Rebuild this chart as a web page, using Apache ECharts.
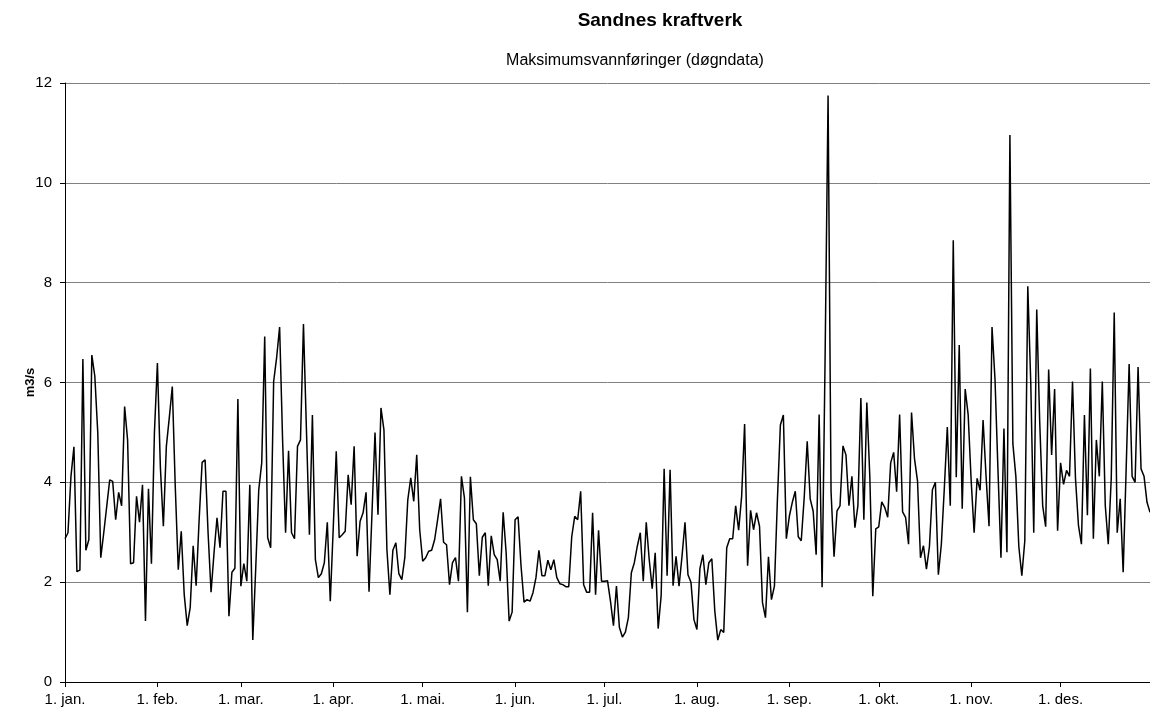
<!DOCTYPE html>
<html>
<head>
<meta charset="utf-8">
<script src="https://cdn.jsdelivr.net/npm/echarts@6/dist/echarts.min.js"></script>
<style>
  html, body { margin: 0; padding: 0; background: #fff; }
  #chart { width: 1150px; height: 713px; }
</style>
</head>
<body>
<div id="chart"></div>
<script>
// månedsnavn og antall dager
const monthNames = ['jan.', 'feb.', 'mar.', 'apr.', 'mai.', 'jun.', 'jul.', 'aug.', 'sep.', 'okt.', 'nov.', 'des.']
const monthDays = [31, 28, 31, 30, 31, 30, 31, 31, 30, 31, 30, 31]

// maksimumsvannføring per døgn (m3/s), lest av figuren
const jan = [2.87, 2.99, 4.12, 4.71, 2.21, 2.24, 6.47, 2.64, 2.85, 6.55, 6.13, 4.99, 2.49, 2.99, 3.52, 4.05, 4.02, 3.25, 3.8, 3.53, 5.52, 4.85, 2.37, 2.39, 3.72, 3.2, 3.95, 1.22, 3.87, 2.37, 5.0]
const feb = [6.39, 4.3, 3.12, 4.72, 5.3, 5.92, 3.9, 2.25, 3.02, 1.75, 1.13, 1.49, 2.73, 1.93, 3.25, 4.4, 4.45, 2.99, 1.8, 2.59, 3.29, 2.69, 3.82, 3.82, 1.32, 2.2, 2.28, 5.67]
const mar = [1.92, 2.37, 2.02, 3.95, 0.84, 2.3, 3.85, 4.39, 6.92, 2.89, 2.69, 6.02, 6.5, 7.11, 4.85, 2.99, 4.63, 2.99, 2.87, 4.72, 4.85, 7.17, 5.05, 2.95, 5.35, 2.45, 2.09, 2.17, 2.39, 3.2, 1.62]
const apr = [3.1, 4.62, 2.89, 2.95, 3.02, 4.15, 3.55, 4.72, 2.52, 3.22, 3.39, 3.8, 1.81, 3.4, 5.0, 3.35, 5.49, 5.05, 2.65, 1.75, 2.64, 2.79, 2.17, 2.05, 2.49, 3.65, 4.09, 3.62, 4.55, 3.05]
const mai = [2.42, 2.49, 2.62, 2.64, 2.85, 3.25, 3.67, 2.8, 2.75, 1.95, 2.39, 2.49, 2.02, 4.12, 3.69, 1.4, 4.11, 3.25, 3.17, 2.13, 2.9, 2.99, 1.93, 2.93, 2.55, 2.45, 2.02, 3.4, 2.59, 1.22, 1.4]
const jun = [3.25, 3.31, 2.32, 1.6, 1.65, 1.62, 1.79, 2.09, 2.64, 2.13, 2.13, 2.44, 2.25, 2.45, 2.09, 1.97, 1.95, 1.91, 1.91, 2.91, 3.32, 3.25, 3.82, 1.95, 1.8, 1.8, 3.39, 1.75, 3.04, 2.02]
const jul = [2.02, 2.03, 1.62, 1.13, 1.92, 1.09, 0.9, 1.0, 1.29, 2.19, 2.39, 2.72, 2.99, 2.02, 3.2, 2.45, 1.87, 2.59, 1.07, 1.73, 4.27, 2.13, 4.25, 1.93, 2.52, 1.92, 2.52, 3.2, 2.15, 2.0, 1.25]
const aug = [1.05, 2.27, 2.55, 1.95, 2.39, 2.47, 1.42, 0.84, 1.05, 0.99, 2.69, 2.87, 2.87, 3.53, 3.04, 3.72, 5.17, 2.33, 3.44, 3.05, 3.39, 3.12, 1.59, 1.29, 2.51, 1.65, 1.92, 3.65, 5.15, 5.35, 2.87]
const sep = [3.32, 3.6, 3.82, 2.91, 2.83, 3.7, 4.82, 3.67, 3.42, 2.55, 5.36, 1.9, 6.5, 11.75, 3.81, 2.51, 3.43, 3.53, 4.73, 4.55, 3.53, 4.12, 3.09, 3.53, 5.69, 3.25, 5.6, 4.12, 1.72, 3.07]
const okt = [3.11, 3.61, 3.5, 3.3, 4.39, 4.6, 3.81, 5.36, 3.41, 3.3, 2.76, 5.4, 4.47, 4.03, 2.49, 2.73, 2.26, 2.71, 3.85, 4.0, 2.15, 2.76, 3.88, 5.11, 3.53, 8.85, 4.1, 6.75, 3.47, 5.87, 5.35]
const nov = [4.04, 2.99, 4.08, 3.84, 5.25, 4.12, 3.12, 7.11, 6.07, 4.24, 2.49, 5.08, 2.6, 10.96, 4.77, 4.12, 2.71, 2.13, 2.83, 7.93, 5.99, 2.99, 7.46, 5.21, 3.53, 3.11, 6.26, 4.55, 5.87, 3.03]
const des = [4.39, 3.96, 4.24, 4.12, 6.02, 4.08, 3.14, 2.76, 5.35, 3.34, 6.28, 2.87, 4.85, 4.12, 6.02, 3.53, 2.76, 4.08, 7.4, 2.99, 3.67, 2.2, 4.27, 6.37, 4.12, 4.0, 6.31, 4.27, 4.12, 3.6, 3.4]

const values = [].concat(jan, feb, mar, apr, mai, jun, jul, aug, sep, okt, nov, des)

// kategorier: "1. jan." osv.
const categories = []
monthNames.forEach((m, i) => {
  for (let d = 1; d <= monthDays[i]; d++) categories.push(`${d}. ${m}`)
})
const isMonthStart = (index, value) => String(value).indexOf('1. ') === 0

const chart = echarts.init(document.getElementById('chart'), null, { renderer: 'canvas' })

const FONT = '"Liberation Sans", Arial, sans-serif'

chart.setOption({
  animation: false,
  backgroundColor: '#fff',
  title: [
    {
      text: 'Sandnes kraftverk',
      left: 655,
      top: 6,
      textAlign: 'center',
      textStyle: { fontFamily: FONT, fontSize: 19, fontWeight: 'bold', color: '#000' }
    },
    {
      text: 'Maksimumsvannføringer (døgndata)',
      left: 630,
      top: 48,
      textAlign: 'center',
      textStyle: { fontFamily: FONT, fontSize: 16, fontWeight: 'normal', color: '#000' }
    }
  ],
  grid: {
    left: 65,
    right: 0,
    top: 83,
    bottom: 31
  },
  xAxis: {
    type: 'category',
    data: categories,
    boundaryGap: false,
    axisLine: { lineStyle: { color: '#000', width: 1 } },
    axisTick: { interval: isMonthStart, length: 5, lineStyle: { color: '#000' } },
    axisLabel: {
      interval: isMonthStart,
      color: '#000',
      fontFamily: FONT,
      fontSize: 15,
      margin: 10
    },
    splitLine: { show: false }
  },
  yAxis: {
    type: 'value',
    min: 0,
    max: 12,
    interval: 2,
    name: 'm3/s',
    nameLocation: 'middle',
    nameRotate: 90,
    nameGap: 28,
    nameMoveOverlap: false,
    nameTextStyle: { fontFamily: FONT, fontSize: 13, fontWeight: 'bold', color: '#000' },
    axisLine: { show: true, lineStyle: { color: '#000', width: 1 } },
    axisTick: { show: true, inside: false, length: 5, lineStyle: { color: '#000' } },
    axisLabel: { color: '#000', fontFamily: FONT, fontSize: 15, margin: 13 },
    splitLine: { show: true, lineStyle: { color: '#808080', width: 1 } }
  },
  series: [
    {
      type: 'line',
      data: values,
      symbol: 'none',
      lineStyle: { color: '#000', width: 1.5 },
      itemStyle: { color: '#000' },
      z: 3
    }
  ]
})
</script>
</body>
</html>
